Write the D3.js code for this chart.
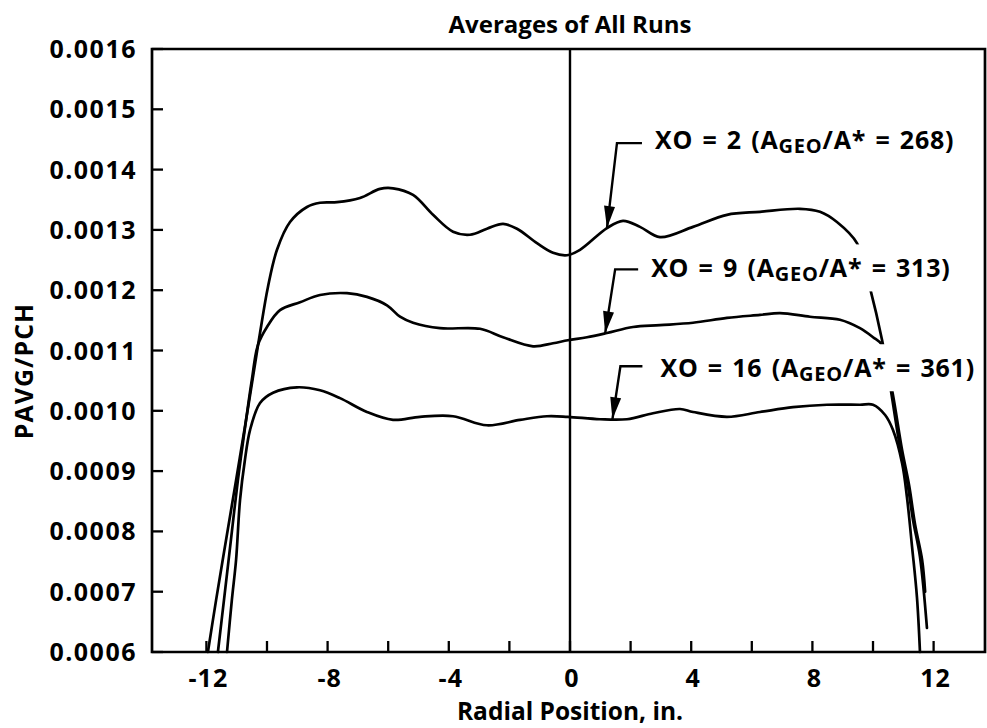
<!DOCTYPE html>
<html>
<head>
<meta charset="utf-8">
<script src="https://cdn.jsdelivr.net/npm/d3@7"></script>
<style>
  html, body { margin: 0; padding: 0; background: #fff; }
  svg { display: block; }
  text { font-family: "Open Sans", "Noto Sans", sans-serif; font-weight: 700; fill: #000; }
</style>
</head>
<body>
<svg id="chart" width="987" height="728"></svg>
<script>
// Radial pressure profiles, PAVG/PCH vs radial position (in.)
const radialXO2 = [-11.95, -11.68, -11.35, -11.02, -10.69, -10.40, -10.23, -9.97, -9.67, -9.24, -8.68, -8.25, -7.69, -6.93, -6.27, -5.84, -5.18, -4.52, -3.86, -3.30, -2.74, -2.21, -1.75, -1.09, -0.56, -0.10, 0.33, 1.22, 1.75, 2.31, 2.97, 4.06, 5.18, 6.27, 7.59, 8.25, 8.81, 9.47, 9.90, 10.30, 10.56, 10.89, 11.12, 11.32, 11.55, 11.78];
const pavgXO2 = [0.000600, 0.000686, 0.000786, 0.000885, 0.000985, 0.001076, 0.001129, 0.001205, 0.001267, 0.001313, 0.001338, 0.001345, 0.001346, 0.001353, 0.001368, 0.001369, 0.001358, 0.001325, 0.001297, 0.001292, 0.001302, 0.001310, 0.001302, 0.001278, 0.001262, 0.001258, 0.001267, 0.001303, 0.001315, 0.001305, 0.001288, 0.001305, 0.001325, 0.001330, 0.001335, 0.001330, 0.001313, 0.001278, 0.001204, 0.001117, 0.001043, 0.000940, 0.000885, 0.000819, 0.000758, 0.000640];

const radialXO9 = [-11.62, -11.42, -11.19, -10.96, -10.69, -10.50, -10.30, -10.00, -9.57, -8.91, -8.25, -7.36, -6.70, -6.04, -5.61, -5.18, -4.29, -2.97, -2.21, -1.22, -0.56, -0.07, 0.56, 1.22, 2.08, 2.97, 4.06, 5.18, 6.27, 6.93, 7.92, 8.91, 9.57, 10.00, 10.30, 10.63, 10.96, 11.19, 11.39, 11.62, 11.72];
const pavgXO9 = [0.000600, 0.000686, 0.000786, 0.000885, 0.000985, 0.001051, 0.001109, 0.001139, 0.001167, 0.001180, 0.001192, 0.001195, 0.001189, 0.001175, 0.001156, 0.001146, 0.001137, 0.001136, 0.001122, 0.001107, 0.001112, 0.001117, 0.001122, 0.001129, 0.001139, 0.001142, 0.001146, 0.001154, 0.001159, 0.001162, 0.001156, 0.001151, 0.001137, 0.001122, 0.001109, 0.001034, 0.000935, 0.000877, 0.000811, 0.000753, 0.000700];

const radialXO16 = [-11.32, -11.16, -11.02, -10.89, -10.73, -10.56, -10.23, -9.80, -9.01, -8.25, -7.59, -6.70, -5.84, -4.95, -3.86, -2.74, -1.65, -0.76, -0.07, 0.99, 1.88, 2.74, 3.63, 4.06, 5.18, 6.27, 7.36, 8.48, 9.57, 10.00, 10.40, 10.66, 10.96, 11.12, 11.29, 11.45, 11.55];
const pavgXO16 = [0.000600, 0.000686, 0.000753, 0.000852, 0.000918, 0.000968, 0.001013, 0.001030, 0.001039, 0.001034, 0.001021, 0.000998, 0.000985, 0.000990, 0.000991, 0.000976, 0.000985, 0.000991, 0.000990, 0.000986, 0.000986, 0.000996, 0.001003, 0.000998, 0.000990, 0.000998, 0.001006, 0.001010, 0.001010, 0.001010, 0.000993, 0.000968, 0.000913, 0.000857, 0.000774, 0.000691, 0.000600];

const seriesXO = [2, 9, 16];
const seriesArea = [268, 313, 361];
const seriesArrowAt = [1.22, 1.16, 1.40];

const xTicks = [-12, -10, -8, -6, -4, -2, 0, 2, 4, 6, 8, 10, 12];
const xTickLabels = [-12, -8, -4, 0, 4, 8, 12];
const yTicks = [0.0006, 0.0007, 0.0008, 0.0009, 0.0010, 0.0011, 0.0012, 0.0013, 0.0014, 0.0015, 0.0016];

const chartTitle = "Averages of All Runs";
const xTitle = "Radial Position, in.";
const yTitle = "PAVG/PCH";

// ---- layout ----
const svg = d3.select("#chart");
const plot = { left: 152, right: 985, top: 49, bottom: 652 };
const x = d3.scaleLinear().domain([-13.795, 13.696]).range([plot.left, plot.right]);
const y = d3.scaleLinear().domain([0.0006, 0.0016]).range([plot.bottom, plot.top]);

const series = [
  { r: radialXO2, v: pavgXO2 },
  { r: radialXO9, v: pavgXO9 },
  { r: radialXO16, v: pavgXO16 }
].map((s, i) => ({
  xo: seriesXO[i], area: seriesArea[i], arrowAt: seriesArrowAt[i],
  points: s.r.map((r, k) => [r, s.v[k]])
}));

// label placement relative to arrow tip (pixels)
const labelOffsets = [
  { tx: 48, ty: -79, cx: 10, cy: -85, hx: 35 },
  { tx: 46, ty: -56, cx: 10, cy: -64, hx: 33 },
  { tx: 48, ty: -42, cx: 8,  cy: -53, hx: 30 }
];

const fs = 25;
const line = d3.line().x(d => x(d[0])).y(d => y(d[1])).curve(d3.curveCatmullRom.alpha(0.5));

// curves
svg.append("g").selectAll("path").data(series).join("path")
  .attr("d", d => line(d.points))
  .attr("fill", "none").attr("stroke", "#000").attr("stroke-width", 2.7)
  .attr("stroke-linejoin", "round").attr("stroke-linecap", "round");

// centre line at r = 0
svg.append("line")
  .attr("x1", x(0)).attr("x2", x(0)).attr("y1", plot.top).attr("y2", plot.bottom)
  .attr("stroke", "#000").attr("stroke-width", 2.4);

function valueAt(points, r) {
  for (let k = 0; k < points.length - 1; k++) {
    const a = points[k], b = points[k + 1];
    if (r >= a[0] && r <= b[0]) return a[1] + (b[1] - a[1]) * (r - a[0]) / (b[0] - a[0]);
  }
  return points[points.length - 1][1];
}

// annotations
const ann = svg.append("g");
series.forEach((s, i) => {
  const o = labelOffsets[i];
  const tipX = x(s.arrowAt), tipY = y(valueAt(s.points, s.arrowAt));
  const g = ann.append("g");
  const bg = g.append("rect").attr("fill", "#fff");
  const t = g.append("text").attr("x", tipX + o.tx).attr("y", tipY + o.ty)
    .attr("font-size", fs).attr("letter-spacing", 0.8).attr("word-spacing", 2);
  t.append("tspan").text(`XO = ${s.xo} (A`);
  t.append("tspan").attr("font-size", fs * 0.8).attr("dy", 4).text("GEO");
  t.append("tspan").attr("dy", -4).text(`/A* = ${s.area})`);
  const bb = t.node().getBBox();
  bg.attr("x", bb.x - 4).attr("y", bb.y - 6).attr("width", bb.width + 6).attr("height", bb.height + 10);

  // leader: short horizontal stroke, then a slanted line to the arrow head
  const cx = tipX + o.cx, cy = tipY + o.cy;
  g.append("path")
    .attr("d", `M${tipX + o.hx},${cy}L${cx},${cy}L${tipX},${tipY}`)
    .attr("fill", "none").attr("stroke", "#000").attr("stroke-width", 2.4);
  const ang = Math.atan2(tipY - cy, tipX - cx);
  const L = 22, W = 5.5;
  const bx = tipX - L * Math.cos(ang), by = tipY - L * Math.sin(ang);
  const px = -Math.sin(ang) * W, py = Math.cos(ang) * W;
  g.append("path")
    .attr("d", `M${tipX},${tipY}L${bx + px},${by + py}L${bx - px},${by - py}Z`)
    .attr("fill", "#000");
});

// frame
svg.append("path")
  .attr("d", `M${plot.left},${plot.top}H${plot.right}V${plot.bottom}H${plot.left}Z`)
  .attr("fill", "none").attr("stroke", "#000").attr("stroke-width", 2.7);

// ticks pointing inward
svg.append("g").selectAll("line").data(xTicks).join("line")
  .attr("x1", d => x(d)).attr("x2", d => x(d))
  .attr("y1", plot.bottom).attr("y2", plot.bottom - 11)
  .attr("stroke", "#000").attr("stroke-width", 2.3);
svg.append("g").selectAll("line").data(yTicks).join("line")
  .attr("x1", plot.left).attr("x2", plot.left + 11)
  .attr("y1", d => y(d)).attr("y2", d => y(d))
  .attr("stroke", "#000").attr("stroke-width", 2.3);

// tick labels
svg.append("g").selectAll("text").data(xTickLabels).join("text")
  .attr("x", d => x(d) + 2).attr("y", plot.bottom + 35)
  .attr("text-anchor", "middle").attr("font-size", fs).attr("letter-spacing", 1)
  .text(d => String(d));
svg.append("g").selectAll("text").data(yTicks).join("text")
  .attr("x", plot.left - 15).attr("y", d => y(d)).attr("dy", "0.36em")
  .attr("text-anchor", "end").attr("font-size", fs).attr("letter-spacing", 1.5)
  .text(d => d.toFixed(4));

// titles
svg.append("text").attr("x", x(0)).attr("y", 33).attr("text-anchor", "middle")
  .attr("font-size", 24).text(chartTitle);
svg.append("text").attr("x", x(0)).attr("y", 720).attr("text-anchor", "middle")
  .attr("font-size", 24.5).text(xTitle);
svg.append("text").attr("transform", `translate(33,371) rotate(-90)`)
  .attr("text-anchor", "middle").attr("font-size", 25).attr("letter-spacing", 1).text(yTitle);
</script>
</body>
</html>
